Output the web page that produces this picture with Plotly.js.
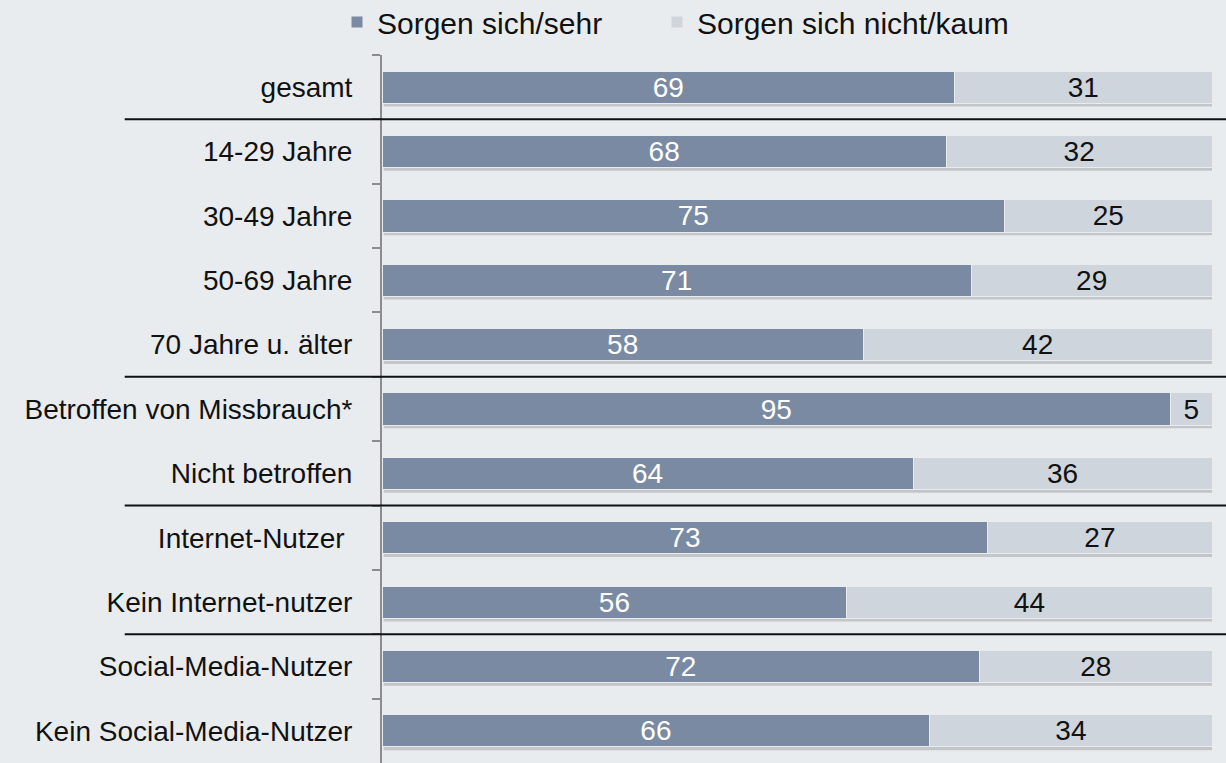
<!DOCTYPE html>
<html><head><meta charset="utf-8">
<script src="https://cdn.plot.ly/plotly-3.0.1.min.js"></script>
<style>html,body{margin:0;padding:0;background:#e9ecee;}</style>
</head><body>
<div id="chart" style="width:1226px;height:763px;"></div>
<script>
const categories = ["gesamt","14-29 Jahre","30-49 Jahre","50-69 Jahre","70 Jahre u. älter","Betroffen von Missbrauch*","Nicht betroffen","Internet-Nutzer\u00a0","Kein Internet-nutzer","Social-Media-Nutzer","Kein Social-Media-Nutzer"];
const sorgenSehr = [69,68,75,71,58,95,64,73,56,72,66];
const sorgenNicht = [31,32,25,29,42,5,36,27,44,28,34];
const seriesNames = ["Sorgen sich/sehr","Sorgen sich nicht/kaum"];
const separatorsAfter = [0,4,6,8];

const FONT = "Liberation Sans, Arial, sans-serif";
const traces = [
  {type:"bar",orientation:"h",name:seriesNames[0],y:categories,x:sorgenSehr,legend:"legend",
   marker:{color:"#7a8aa2",line:{color:"#e9ecee",width:1}},width:0.5,
   text:sorgenSehr.map(String),textposition:"inside",insidetextanchor:"middle",textangle:0,
   textfont:{color:"#ffffff",size:28,family:FONT},constraintext:"none",hoverinfo:"none"},
  {type:"bar",orientation:"h",name:seriesNames[1],y:categories,x:sorgenNicht,legend:"legend2",
   marker:{color:"#cfd5dd",line:{color:"#e9ecee",width:1}},width:0.5,
   text:sorgenNicht.map(String),textposition:"inside",insidetextanchor:"middle",textangle:0,
   textfont:{color:"#111111",size:28,family:FONT},constraintext:"none",hoverinfo:"none"}
];
const shapes = separatorsAfter.map(i=>({type:"line",xref:"paper",yref:"y",
  x0:-0.31,x1:1.02,y0:i+0.5,y1:i+0.5,line:{color:"#111111",width:2}}));
categories.forEach((c,i)=>{
  shapes.push({type:"rect",layer:"below",xref:"x",yref:"y",x0:0.2,x1:100.3,
    y0:i-0.25+0.05,y1:i+0.25+0.05,fillcolor:"rgba(0,0,0,0.16)",line:{width:0}});
});
const legendBase = {orientation:"h",xref:"container",yref:"container",xanchor:"left",yanchor:"middle",
  y:1-22/763,font:{size:30,color:"#111111",family:FONT},itemwidth:30,bgcolor:"rgba(0,0,0,0)"};
const layout = {
  width:1226,height:763,
  paper_bgcolor:"#e9ecee",plot_bgcolor:"#e9ecee",
  margin:{l:382,r:14,t:55,b:0,autoexpand:false},
  barmode:"stack",
  font:{family:FONT,size:28,color:"#111111"},
  xaxis:{range:[0,100],showticklabels:false,showgrid:false,zeroline:false,showline:false,fixedrange:true},
  yaxis:{type:"category",autorange:"reversed",showline:true,linecolor:"#8c8c8c",linewidth:2,
    ticks:"outside",tickson:"boundaries",ticklen:8,tickcolor:"#8c8c8c",tickwidth:2,
    ticklabelstandoff:22,showgrid:false,zeroline:false,tickfont:{size:28,color:"#111111",family:FONT}},
  showlegend:true,
  legend:Object.assign({},legendBase,{x:337/1226}),
  legend2:Object.assign({},legendBase,{x:657/1226}),
  shapes:shapes
};
Plotly.newPlot("chart",traces,layout,{displayModeBar:false,staticPlot:true});
</script>
</body></html>
